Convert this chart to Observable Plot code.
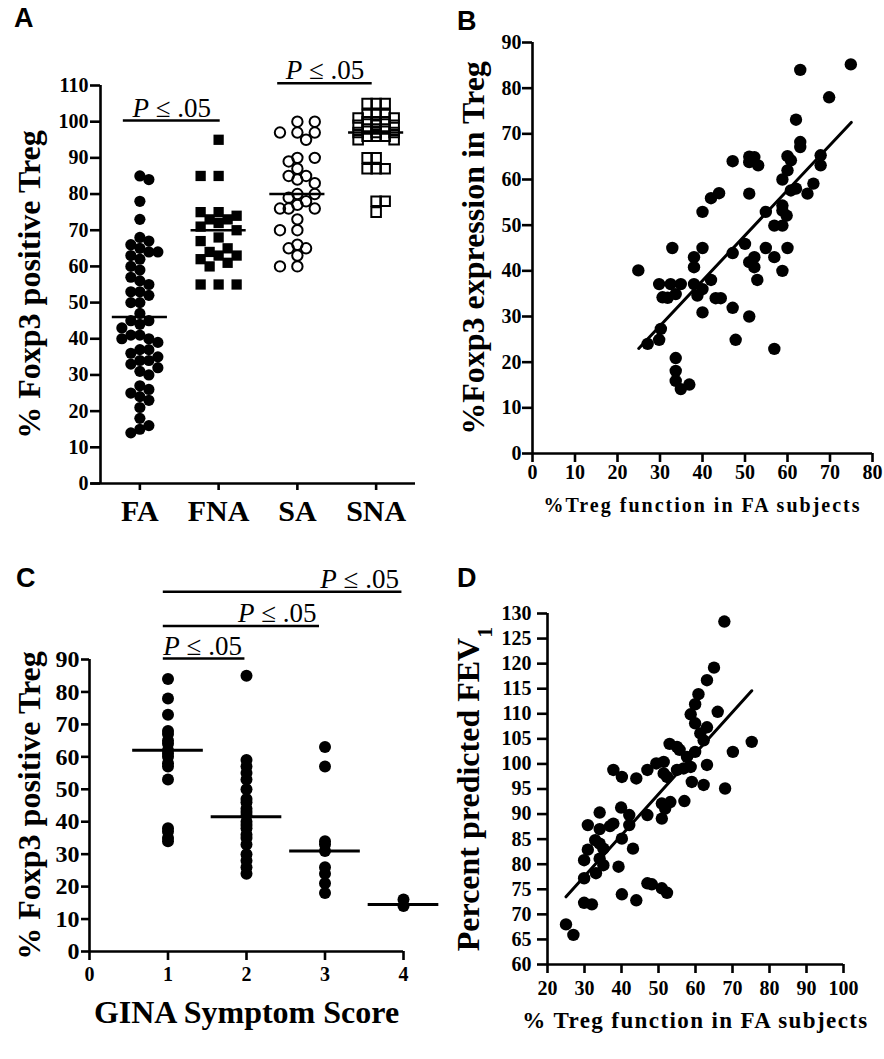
<!DOCTYPE html>
<html><head><meta charset="utf-8">
<script src="https://cdn.jsdelivr.net/npm/d3@7"></script>
<script src="https://cdn.jsdelivr.net/npm/@observablehq/plot@0.6"></script>
<style>
body{margin:0;background:#fff;}
#wrap{position:relative;width:884px;height:1059px;overflow:hidden;background:#fff;}
.panel{position:absolute;}
.panel svg{overflow:visible;}
.letter{position:absolute;font-family:"Liberation Sans",Arial,sans-serif;font-weight:bold;font-size:27px;line-height:1;color:#000;}
</style></head><body><div id="wrap"></div>
<script>
// ---------- DATA ----------
const groupsA = ["FA", "FNA", "SA", "SNA"];
const faVals  = [85,84,78,73,68,67,66,65,64,64,63,62,60,59,57,56,55,53,53,52,50,50,47,45,45,44,43,41,41,40,40,39,37,37,36,35,34,34,33,32,31,30,27,26,25,24,23,21,18,16,15,14];
const fnaVals = [95,85,85,75,75,74,73,73,72,71,70,68,67,65,64,63,63,62,61,60,55,55,55];
const saVals  = [100,100,97,97,97,95,90,90,89,87,85,85,84,83,80,80,79,78,77,76,76,76,73,70,70,66,65,65,63,60,60];
const snaVals = [105,105,105,102,102,102,101,101,100,100,100,99,99,99,98,98,98,97,97,97,96,96,96,95,95,90,90,87,87,87,78,78,75];
const meansA  = [46, 70, 80, 97];
const yTicksA = [0,10,20,30,40,50,60,70,80,90,100,110];

const bX = [74.9,63,69.8,62,63,63,67.8,67.8,60,60.8,
            60,58.8,60.8,62,64.7,66.1,58.8,58.8,59.8,58.8,
            56.9,54.9,60,58.8,56.9,54.9,52.9,52.2,51,52.2,
            50,47.1,51,52.2,51,53.1,51,47.1,43.9,42,
            40,40,38,38,38,40,38.8,42,43.1,44.3,
            40,47.1,51,47.8,56.9,32.9,34.9,33.7,32.5,29.8,
            30.6,31.8,30.2,29.8,27.1,24.9,33.7,33.7,33.7,34.9,
            36.9];
const bY = [85.2,84,78,73.1,68.2,67.1,65.3,63.1,65.1,64.2,
            62,60,57.6,58,56.9,59.1,54.3,53.2,52.1,49.9,
            49.9,52.9,45,40,43,45,38,43,41.9,40.8,
            45.9,43.9,65,64.9,63.8,63.1,56.9,64,57,55.9,
            52.9,45,43,40.8,37.1,36,34.6,38,34,34,
            30.9,31.9,30,24.9,22.9,45,37.1,34.9,37.1,37.1,
            34.2,34.1,27.3,24.9,24,40.1,20.9,18.1,15.9,14.1,
            15.1];
const regBX = [25, 75];
const regBY = [23, 72.5];

const scoresC = [1, 2, 3, 4];
const c1Vals = [84,78,73,68,67,65,64,62,61,60,58,57,53,38,37,35,34];
const c2Vals = [85,59,57,55,53,50,47,46,44,43,42,40,39,38,36,35,33,30,28,26,24];
const c3Vals = [63,57,34,33,31,26,24,21,18];
const c4Vals = [16,14];
const meansC = [62, 41.5, 31, 14.5];

const dX = [67.8,65,63.1,60.8,59.9,58.7,66,59.9,63.1,61.3,
            62.2,75.2,70.1,59.9,57.7,55.7,53,55,63.1,58.7,
            56.8,55,51.4,49.4,51.4,52.3,59,62.2,68,57,
            53.2,50.9,51.8,50.9,47,47,44,40.1,37.8,39.9,
            42.1,42.1,37.8,36.9,34.1,34.1,30.9,32.9,34.1,35.1,
            30.9,34.1,35.1,29.9,33.1,29.9,40.1,43.1,39.2,40.1,
            44,47,48.2,50.9,52.3,29.9,32,25,27];
const dY = [128.4,119.2,116.7,113.9,111.9,109.9,110.4,108.1,107.3,106.1,
            104.7,104.4,102.4,102.4,101.4,102.8,104,103.4,99.8,99.4,
            99.1,98.8,100.4,100.1,98.1,97.4,96.4,95.8,95.1,92.6,
            92.4,92.1,91.1,89.1,89.8,98.8,97.1,97.4,98.8,91.3,
            89.8,87.8,88.1,87.6,90.3,87,87.8,84.8,84.1,83.1,
            82.9,81.1,79.8,80.8,78.2,77.2,85.1,83.1,79.5,74,
            72.8,76.2,76,75.2,74.3,72.3,72,68,65.9];
const regDX = [25, 75.2];
const regDY = [73.5, 114.6];

const sigLabel = "P ≤ .05";
const sigA = [{x1: -0.21, x2: 1.02, y: 100.3}, {x1: 1.75, x2: 2.95, y: 110.6}];
const sigC = [{x1: 0.94, x2: 1.98, y: 90.3}, {x1: 0.94, x2: 2.93, y: 100.3}, {x1: 0.94, x2: 3.98, y: 110.9}];

const yLabelA = "% Foxp3 positive Treg";
const yLabelB = "%Foxp3 expression in Treg";
const xLabelB = "%Treg function in FA subjects";
const yLabelC = "% Foxp3 positive Treg";
const xLabelC = "GINA Symptom Score";
const yLabelD = "Percent predicted FEV";
const xLabelD = "% Treg function in FA subjects";

// ---------- HELPERS ----------
const SERIF = "'Liberation Serif','Times New Roman',serif";
const wrap = document.getElementById("wrap");
const baseStyle = {fontFamily: SERIF, fontWeight: "bold", fontSize: "20px", color: "black", background: "transparent", overflow: "visible"};
const AX = 2.6;

function place(el, left, top) {
  const d = document.createElement("div");
  d.className = "panel";
  d.style.left = left + "px"; d.style.top = top + "px";
  d.appendChild(el); wrap.appendChild(d);
}
function letter(ch, left, top) {
  const d = document.createElement("div");
  d.className = "letter"; d.textContent = ch;
  d.style.left = left + "px"; d.style.top = top + "px";
  wrap.appendChild(d);
}
function findText(svg, s) {
  return d3.select(svg).selectAll("text").filter(function() { return this.textContent === s; });
}
function italicP(svg) {
  findText(svg, sigLabel).each(function() {
    const t = d3.select(this); t.text(null);
    t.append("tspan").attr("font-style", "italic").text("P");
    t.append("tspan").text(" ≤ .05");
  });
}
// column scatter layout: spreads points of one column sideways within a fixed width
function swarm(values, index, pxY, pxX, step, minD, lanes) {
  const placed = [], out = [];
  values.slice().sort((a, b) => b - a).forEach((v, i) => {
    const s = i % 2 ? 1 : -1;
    const cands = [0];
    for (let k = 1; k <= lanes; k++) cands.push(s * k * step, -s * k * step);
    const yp = v * pxY;
    let best = 0, bestD = -1;
    for (const c of cands) {
      const dmin = placed.length ? Math.min(...placed.map(p => Math.hypot(p.x - c, p.y - yp))) : Infinity;
      if (dmin >= minD) { best = c; bestD = Infinity; break; }
      if (dmin > bestD) { bestD = dmin; best = c; }
    }
    placed.push({x: best, y: yp});
    out.push({x: index + best / pxX, y: v});
  });
  return out;
}

// ---------- PANEL A ----------
{
  const W = 440, H = 540, mL = 100, mR = 25, mT = 85, mB = 57;
  const pxY = (H - mB - mT) / 110, pxX = (W - mL - mR) / 4;
  const fa = swarm(faVals, 0, pxY, pxX, 9, 9, 2);
  const fna = swarm(fnaVals, 1, pxY, pxX, 9, 11, 2);
  const sa = swarm(saVals, 2, pxY, pxX, 8.7, 9, 2);
  const sna = swarm(snaVals, 3, pxY, pxX, 9, 9, 2);
  const svg = Plot.plot({
    width: W, height: H, marginLeft: mL, marginRight: mR, marginTop: mT, marginBottom: mB,
    style: baseStyle,
    x: {domain: [-0.5, 3.5]},
    y: {domain: [0, 110]},
    marks: [
      Plot.dot(fa, {x: "x", y: "y", r: 5.6, fill: "black", stroke: "none"}),
      Plot.dot(fna, {x: "x", y: "y", r: 5.8, symbol: "square", fill: "black", stroke: "none"}),
      Plot.dot(sa, {x: "x", y: "y", r: 5.2, fill: "none", stroke: "black", strokeWidth: 2}),
      Plot.dot(sna, {x: "x", y: "y", r: 5.4, symbol: "square", fill: "none", stroke: "black", strokeWidth: 2}),
      Plot.ruleY(meansA, {y: d => d, x1: (d, i) => i - 0.35, x2: (d, i) => i + 0.35, strokeWidth: AX}),
      Plot.ruleX([-0.5], {strokeWidth: AX}),
      Plot.ruleY([0], {x1: -0.62, x2: 3.5, strokeWidth: AX}),
      Plot.axisY({ticks: yTicksA, tickSize: 10, tickPadding: 2, strokeWidth: AX, fontSize: 20, label: null}),
      Plot.axisX({ticks: [0, 1, 2, 3], tickFormat: i => groupsA[i], tickSize: 7, tickPadding: 9, strokeWidth: AX, fontSize: 30, label: null}),
      Plot.ruleY(sigA, {y: "y", x1: "x1", x2: "x2", strokeWidth: 2.5}),
      Plot.text(sigA, {x: d => (d.x1 + d.x2) / 2, y: "y", text: () => sigLabel, lineAnchor: "bottom", dy: -4, fontSize: 27, fontWeight: "normal"}),
      Plot.text([yLabelA], {text: d => d, frameAnchor: "left", dx: -71, rotate: -90, textAnchor: "middle", lineAnchor: "middle", fontSize: 32})
    ]
  });
  italicP(svg);
  place(svg, 0, 0);
}

// ---------- PANEL B ----------
{
  const pts = bX.map((x, i) => ({x, y: bY[i]}));
  const reg = regBX.map((x, i) => ({x, y: regBY[i]}));
  const svg = Plot.plot({
    width: 444, height: 530, marginLeft: 92, marginRight: 12, marginTop: 42, marginBottom: 77,
    style: baseStyle,
    x: {domain: [0, 80]},
    y: {domain: [0, 90]},
    marks: [
      Plot.dot(pts, {x: "x", y: "y", r: 6.2, fill: "black", stroke: "none"}),
      Plot.line(reg, {x: "x", y: "y", strokeWidth: 3}),
      Plot.ruleX([0], {strokeWidth: AX}),
      Plot.ruleY([0], {strokeWidth: AX}),
      Plot.axisY({ticks: d3.range(0, 91, 10), tickSize: 10, tickPadding: 1, strokeWidth: AX, fontSize: 20, label: null}),
      Plot.axisX({ticks: d3.range(0, 81, 10), tickSize: 9, tickPadding: 2, strokeWidth: AX, fontSize: 20, label: null}),
      Plot.text([yLabelB], {text: d => d, frameAnchor: "left", dx: -59, rotate: -90, textAnchor: "middle", lineAnchor: "middle", fontSize: 32}),
      Plot.text([xLabelB], {text: d => d, frameAnchor: "bottom", dy: 52, textAnchor: "middle", lineAnchor: "middle", fontSize: 20})
    ]
  });
  findText(svg, xLabelB).style("letter-spacing", "2px");
  place(svg, 440, 0);
}

// ---------- PANEL C ----------
{
  const cols = [c1Vals, c2Vals, c3Vals, c4Vals];
  const pts = cols.flatMap((vals, i) => vals.map(v => ({x: scoresC[i], y: v})));
  const means = meansC.map((m, i) => ({x: scoresC[i], y: m}));
  const svg = Plot.plot({
    width: 440, height: 519, marginLeft: 89, marginRight: 37, marginTop: 119, marginBottom: 108,
    style: baseStyle,
    x: {domain: [0, 4]},
    y: {domain: [0, 90]},
    marks: [
      Plot.dot(pts, {x: "x", y: "y", r: 6, fill: "black", stroke: "none"}),
      Plot.ruleY(means, {y: "y", x1: d => d.x - 0.45, x2: d => d.x + 0.45, strokeWidth: 3}),
      Plot.ruleX([0], {strokeWidth: AX}),
      Plot.ruleY([0], {strokeWidth: AX}),
      Plot.axisY({ticks: d3.range(0, 91, 10), tickSize: 8, tickPadding: 2, strokeWidth: AX, fontSize: 24, label: null}),
      Plot.axisX({ticks: d3.range(0, 5, 1), tickFormat: d3.format("d"), tickSize: 9, tickPadding: 6, strokeWidth: AX, fontSize: 20, label: null}),
      Plot.ruleY(sigC, {y: "y", x1: "x1", x2: "x2", strokeWidth: 2.5}),
      Plot.text(sigC, {x: "x2", y: "y", text: () => sigLabel, textAnchor: "end", lineAnchor: "bottom", dx: -3, dy: -4, fontSize: 27, fontWeight: "normal"}),
      Plot.text([yLabelC], {text: d => d, frameAnchor: "left", dx: -60, rotate: -90, textAnchor: "middle", lineAnchor: "middle", fontSize: 32}),
      Plot.text([xLabelC], {text: d => d, frameAnchor: "bottom", dy: 61, textAnchor: "middle", lineAnchor: "middle", fontSize: 32})
    ]
  });
  italicP(svg);
  place(svg, 0, 540);
}

// ---------- PANEL D ----------
{
  const pts = dX.map((x, i) => ({x, y: dY[i]}));
  const reg = regDX.map((x, i) => ({x, y: regDY[i]}));
  const svg = Plot.plot({
    width: 444, height: 519, marginLeft: 107, marginRight: 41, marginTop: 73, marginBottom: 95,
    style: baseStyle,
    x: {domain: [20, 100]},
    y: {domain: [60, 130]},
    marks: [
      Plot.dot(pts, {x: "x", y: "y", r: 6.2, fill: "black", stroke: "none"}),
      Plot.line(reg, {x: "x", y: "y", strokeWidth: 3}),
      Plot.ruleX([20], {strokeWidth: AX}),
      Plot.ruleY([60], {strokeWidth: AX}),
      Plot.axisY({ticks: d3.range(60, 131, 5), tickSize: 10, tickPadding: 6, strokeWidth: AX, fontSize: 20, label: null}),
      Plot.axisX({ticks: d3.range(20, 101, 10), tickSize: 9, tickPadding: 7, strokeWidth: AX, fontSize: 20, label: null}),
      Plot.text([yLabelD], {text: d => d, frameAnchor: "left", dx: -79, rotate: -90, textAnchor: "middle", lineAnchor: "middle", fontSize: 32}),
      Plot.text([xLabelD], {text: d => d, frameAnchor: "bottom", dy: 56, textAnchor: "middle", lineAnchor: "middle", fontSize: 23})
    ]
  });
  findText(svg, xLabelD).style("letter-spacing", "1.4px");
  findText(svg, yLabelD).append("tspan").attr("baseline-shift", "sub").attr("font-size", "22px").text("1");
  place(svg, 440, 540);
}

letter("A", 14, 5);
letter("B", 457, 8);
letter("C", 16, 565);
letter("D", 457, 565);
</script></body></html>
